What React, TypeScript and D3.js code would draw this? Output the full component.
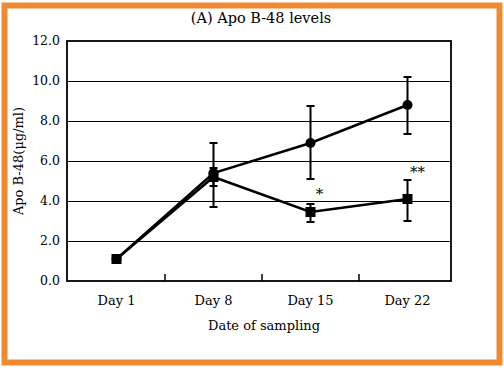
import React from 'react';
import * as d3 from 'd3';

// Apo B-48 (ug/ml) by sampling day
const days = ['Day 1', 'Day 8', 'Day 15', 'Day 22'];
const circleMeans = [1.1, 5.4, 6.9, 8.8];
const circleLow = [1.1, 3.7, 5.1, 7.35];
const circleHigh = [1.1, 6.9, 8.75, 10.2];
const squareMeans = [1.1, 5.2, 3.45, 4.1];
const squareLow = [1.1, 4.75, 2.95, 3.0];
const squareHigh = [1.1, 5.65, 3.85, 5.05];
const yTicks = [0, 2, 4, 6, 8, 10, 12];
const marks = [
  { day: 'Day 15', value: 4.1, text: '*' },
  { day: 'Day 22', value: 5.2, text: '**' },
];

const W = 504;
const H = 370;
const left = 67;
const right = 451;
const top = 41;
const bottom = 281;
const font = '"DejaVu Serif", serif';

const App = () => {
  const x = d3.scaleBand().domain(days).range([left + 1, left + 1 + 4 * 97]);
  const y = d3.scaleLinear().domain([0, 12]).range([bottom, top]);
  const cx = (d: string) => (x(d) as number) + x.bandwidth() / 2;

  const line = d3.line<number>()
    .x((_, i) => cx(days[i]))
    .y(v => y(v));

  const errorBars = (lo: number[], hi: number[], key: string) =>
    days.map((d, i) => {
      if (hi[i] - lo[i] < 0.05) return null;
      const px = cx(d);
      return (
        <g key={key + i} stroke="#000" strokeWidth={2}>
          <line x1={px} x2={px} y1={y(lo[i])} y2={y(hi[i])} />
          <line x1={px - 4} x2={px + 4} y1={y(lo[i])} y2={y(lo[i])} />
          <line x1={px - 4} x2={px + 4} y1={y(hi[i])} y2={y(hi[i])} />
        </g>
      );
    });

  const boundaries = days.slice(1).map(d => x(d) as number);

  return (
    <svg width={W} height={H} style={{ position: 'absolute', left: 0, top: 0, background: '#fff' }}>
      <rect x={4.5} y={5.5} width={495} height={357} fill="#fff" stroke="#f08a32" strokeWidth={6} />

      <text x={261} y={23} textAnchor="middle" fontFamily={font} fontSize={14.5}>(A) Apo B-48 levels</text>

      {yTicks.slice(1, -1).map(t => (
        <line key={t} x1={left} x2={right} y1={Math.round(y(t)) + 0.5} y2={Math.round(y(t)) + 0.5}
          stroke="#000" strokeWidth={1} shapeRendering="crispEdges" />
      ))}
      {yTicks.map(t => (
        <text key={t} x={60} y={y(t)} dy="0.35em" textAnchor="end" fontFamily={font} fontSize={12.5}>
          {d3.format('.1f')(t)}
        </text>
      ))}

      {boundaries.map((b, i) => (
        <line key={i} x1={b} x2={b} y1={bottom} y2={bottom - 7} stroke="#000" strokeWidth={1.5} />
      ))}
      {days.map(d => (
        <text key={d} x={cx(d)} y={305} textAnchor="middle" fontFamily={font} fontSize={13}>{d}</text>
      ))}

      <rect x={left} y={top} width={right - left} height={bottom - top} fill="none" stroke="#000" strokeWidth={1.8} />

      <text x={264} y={330} textAnchor="middle" fontFamily={font} fontSize={13}>Date of sampling</text>
      <text transform={`translate(18,${(top + bottom) / 2}) rotate(-90)`} textAnchor="middle" dy="0.35em"
        fontFamily={font} fontSize={13}>Apo B-48(μg/ml)</text>

      {errorBars(circleLow, circleHigh, 'c')}
      {errorBars(squareLow, squareHigh, 's')}

      <path d={line(circleMeans) || ''} fill="none" stroke="#000" strokeWidth={2.5} />
      <path d={line(squareMeans) || ''} fill="none" stroke="#000" strokeWidth={2.5} />

      {circleMeans.map((v, i) => (
        <circle key={i} cx={cx(days[i])} cy={y(v)} r={5} fill="#000" />
      ))}
      {squareMeans.map((v, i) => (
        <rect key={i} x={cx(days[i]) - 5} y={y(v) - 5} width={10} height={10} fill="#000" />
      ))}

      {marks.map(m => (
        <text key={m.text} x={cx(m.day) + (m.text === '*' ? 9 : 10)} y={y(m.value)} textAnchor="middle"
          fontFamily={font} fontSize={15}>{m.text}</text>
      ))}
    </svg>
  );
};

export default App;
